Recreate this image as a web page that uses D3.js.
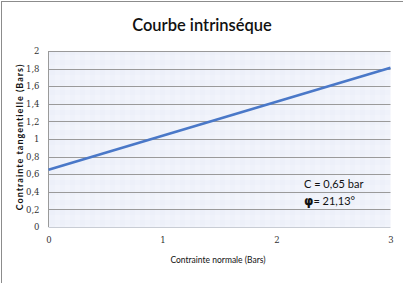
<!DOCTYPE html>
<html><head><meta charset="utf-8">
<script src="https://cdn.jsdelivr.net/npm/d3@7"></script>
<style>body{margin:0;background:#fff;}svg{display:block;}</style>
</head><body>
<svg id="c" width="403" height="283"></svg>
<script>
const title = "Courbe intrinséque";
const xLabel = "Contrainte normale (Bars)";
const yLabel = "Contrainte tangentielle (Bars)";
const xTicks = [0, 1, 2, 3];
const yTicks = [0, 0.2, 0.4, 0.6, 0.8, 1, 1.2, 1.4, 1.6, 1.8, 2];
const lineX = [0, 3];
const lineY = [0.65, 1.81];
const annotC = "C = 0,65 bar";
const annotPhi = "21,13°";

const svg = d3.select("#c");
const m = {l: 48.5, r: 390.5, t: 51, b: 227};
const x = d3.scaleLinear().domain([0, 3]).range([m.l, m.r]);
const y = d3.scaleLinear().domain([0, 2]).range([m.b, m.t]);
const fmt = d => d3.format(".1f")(d).replace(".", ",").replace(/,0$/, "");

// outer border
svg.append("rect").attr("x", 1.5).attr("y", 1.5).attr("width", 420).attr("height", 300)
  .attr("fill", "#fff").attr("stroke", "#8c8c8c").attr("stroke-width", 1);

// plot background with subtle pattern
const defs = svg.append("defs");
const pat = defs.append("pattern").attr("id", "p").attr("width", 10).attr("height", 10).attr("patternUnits", "userSpaceOnUse");
pat.append("rect").attr("width", 10).attr("height", 10).attr("fill", "#eff2fa");
pat.append("rect").attr("width", 5).attr("height", 5).attr("fill", "#edf0f9");
pat.append("rect").attr("x", 5).attr("y", 5).attr("width", 5).attr("height", 5).attr("fill", "#f2f4fb");
svg.append("rect").attr("x", m.l).attr("y", m.t).attr("width", m.r - m.l).attr("height", m.b - m.t)
  .attr("fill", "url(#p)");

// gridlines
svg.append("g").selectAll("line").data(yTicks).join("line")
  .attr("x1", m.l).attr("x2", m.r)
  .attr("y1", d => Math.round(y(d)) + 0.5).attr("y2", d => Math.round(y(d)) + 0.5)
  .attr("stroke", d => d === 0 ? "#c8ccd4" : "#9a9a9a").attr("stroke-width", 1);

// y axis line
svg.append("line").attr("x1", m.l).attr("x2", m.l).attr("y1", m.t).attr("y2", m.b)
  .attr("stroke", "#9a9a9a");

// y tick labels
const yAxis = d3.axisLeft(y).tickValues(yTicks).tickFormat(fmt).tickSize(0).tickPadding(0);
const gy = svg.append("g").attr("transform", `translate(${m.l - 9},0)`).call(yAxis);
gy.select(".domain").remove();
gy.selectAll("text").attr("font-family", "DejaVu Serif, serif").attr("font-size", 8.5).attr("fill", "#333");

// x tick labels
const xAxis = d3.axisBottom(x).tickValues(xTicks).tickFormat(d3.format("d")).tickSize(0).tickPadding(0);
const gx = svg.append("g").attr("transform", `translate(0,${m.b + 10})`).call(xAxis);
gx.select(".domain").remove();
gx.selectAll("text").attr("font-family", "DejaVu Serif, serif").attr("font-size", 8.5).attr("fill", "#333");

// line
svg.append("path").datum(lineX.map((d, i) => [d, lineY[i]]))
  .attr("d", d3.line().x(d => x(d[0])).y(d => y(d[1])))
  .attr("fill", "none").attr("stroke", "#4a78c8").attr("stroke-width", 2.6);

// title
svg.append("text").attr("x", 202).attr("y", 31).attr("text-anchor", "middle")
  .attr("font-family", "Lato, sans-serif").attr("font-size", 16.5).attr("font-weight", 600).attr("fill", "#111").text(title);

// axis titles
svg.append("text").attr("x", 218).attr("y", 263).attr("text-anchor", "middle")
  .attr("font-family", "Lato, sans-serif").attr("font-size", 8.5).attr("fill", "#111").text(xLabel);
svg.append("text").attr("transform", "translate(23,137) rotate(-90)").attr("text-anchor", "middle")
  .attr("font-family", "Lato, sans-serif").attr("font-weight", "bold").attr("font-size", 9)
  .attr("letter-spacing", 1).attr("fill", "#111").text(yLabel);

// annotations
svg.append("text").attr("x", 304).attr("y", 188)
  .attr("font-family", "Lato, sans-serif").attr("font-size", 11).attr("fill", "#111").text(annotC);
const t2 = svg.append("text").attr("x", 304).attr("y", 205)
  .attr("font-family", "Lato, sans-serif").attr("font-size", 11).attr("fill", "#111");
t2.append("tspan").attr("font-weight", "bold").attr("font-family", "DejaVu Sans, sans-serif").attr("font-size", 12).text("φ");
t2.append("tspan").text("= " + annotPhi);
</script>
</body></html>
